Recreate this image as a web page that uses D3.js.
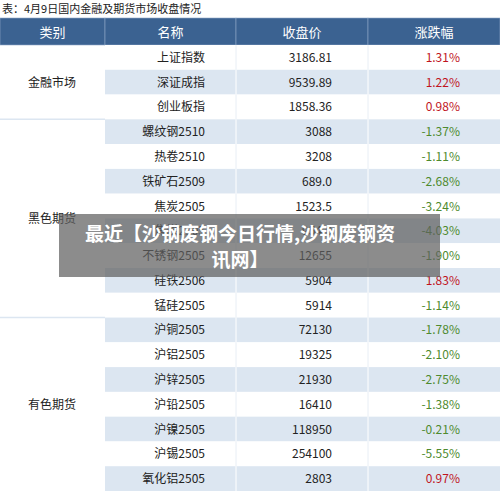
<!DOCTYPE html>
<html><head><meta charset="utf-8">
<script src="https://cdn.jsdelivr.net/npm/d3@7"></script>
<style>body{margin:0;background:#fff}svg{display:block}</style>
</head><body>
<svg id="c" width="500" height="491"></svg>
<script>
const headers = ["类别", "名称", "收盘价", "涨跌幅"];
const groups = [
  { name: "金融市场", count: 3 },
  { name: "黑色期货", count: 8 },
  { name: "有色期货", count: 7 }
];
const names = ["上证指数","深证成指","创业板指","螺纹钢2510","热卷2510","铁矿石2509","焦炭2505","焦煤2505","不锈钢2505","硅铁2506","锰硅2505","沪铜2505","沪铝2505","沪锌2505","沪铅2505","沪镍2505","沪锡2505","氧化铝2505"];
const prices = ["3186.81","9539.89","1858.36","3088","3208","689.0","1523.5","954.0","12655","5904","5914","72130","19325","21930","16410","118950","254100","2803"];
const changes = [1.31,1.22,0.98,-1.37,-1.11,-2.68,-3.24,-4.03,-1.90,1.83,-1.14,-1.78,-2.10,-2.75,-1.38,-0.21,-5.55,0.97];

const svg = d3.select("#c");
const font = "'Noto Sans CJK SC', sans-serif";
const x = d3.scaleOrdinal().domain(headers).range([0, 105, 236, 368]);
const colW = [105, 131, 132, 132];
const headTop = 18, headH = 27;
const y = d3.scaleBand().domain(d3.range(names.length)).range([headTop + headH, 491]);

svg.append("text").attr("x", 2).attr("y", 13).attr("font-family", font)
  .attr("font-size", 11).attr("fill", "#222").text("表：4月9日国内金融及期货市场收盘情况");

svg.selectAll("rect.h").data(headers).join("rect")
  .attr("x", d => x(d)).attr("y", headTop).attr("width", (d, i) => colW[i]).attr("height", headH)
  .attr("fill", "#3b6291").attr("stroke", "#8fa9c8").attr("stroke-width", 0.6);
svg.selectAll("text.h").data(headers).join("text")
  .attr("x", (d, i) => x(d) + colW[i] / 2).attr("y", headTop + headH / 2 + 5)
  .attr("text-anchor", "middle").attr("font-family", font).attr("font-size", 13)
  .attr("fill", "#fff").text(d => d);

const rows = svg.selectAll("g.r").data(names).join("g")
  .attr("transform", (d, i) => `translate(0,${y(i)})`);
rows.append("rect").attr("x", 105).attr("width", 395).attr("height", y.bandwidth())
  .attr("fill", (d, i) => i % 2 ? "#dce6f1" : "#fff");
rows.append("line").attr("x1", 236).attr("x2", 236).attr("y2", y.bandwidth())
  .attr("stroke", (d, i) => i % 2 ? "#fff" : "#e8eef5");
rows.append("line").attr("x1", 368).attr("x2", 368).attr("y2", y.bandwidth())
  .attr("stroke", (d, i) => i % 2 ? "#fff" : "#e8eef5");
const ty = y.bandwidth() / 2 + 4.5;
rows.append("text").attr("x", 205).attr("y", ty).attr("text-anchor", "end")
  .attr("font-family", font).attr("font-size", 12).attr("fill", "#222").text(d => d);
rows.append("text").attr("x", 332).attr("y", ty).attr("text-anchor", "end")
  .attr("font-family", font).attr("font-size", 12).attr("fill", "#222").text((d, i) => prices[i]);
rows.append("text").attr("x", 460).attr("y", ty).attr("text-anchor", "end")
  .attr("font-family", font).attr("font-size", 12)
  .attr("fill", (d, i) => changes[i] >= 0 ? "#c0141e" : "#4e8a2e")
  .text((d, i) => changes[i].toFixed(2) + "%");

let start = 0;
groups.forEach((g, gi) => {
  const top = y(start), bot = y(start + g.count - 1) + y.bandwidth();
  svg.append("text").attr("x", 52).attr("y", (top + bot) / 2 + 4.5).attr("text-anchor", "middle")
    .attr("font-family", font).attr("font-size", 12).attr("fill", "#222").text(g.name);
  if (gi > 0) svg.append("line").attr("x1", 0).attr("x2", 105).attr("y1", top).attr("y2", top)
    .attr("stroke", "#dce6f1").attr("stroke-width", 1.5);
  start += g.count;
});

// watermark banner
svg.append("rect").attr("x", 59).attr("y", 214).attr("width", 381).attr("height", 63)
  .attr("fill", "rgba(95,95,95,0.72)");
["最近【沙钢废钢今日行情,沙钢废钢资", "讯网】"].forEach((t, i) => {
  svg.append("text").attr("x", 240).attr("y", 241 + i * 26).attr("text-anchor", "middle")
    .attr("font-family", font).attr("font-weight", "bold").attr("font-size", 19)
    .attr("fill", "#fff").text(t);
});
</script>
</body></html>
